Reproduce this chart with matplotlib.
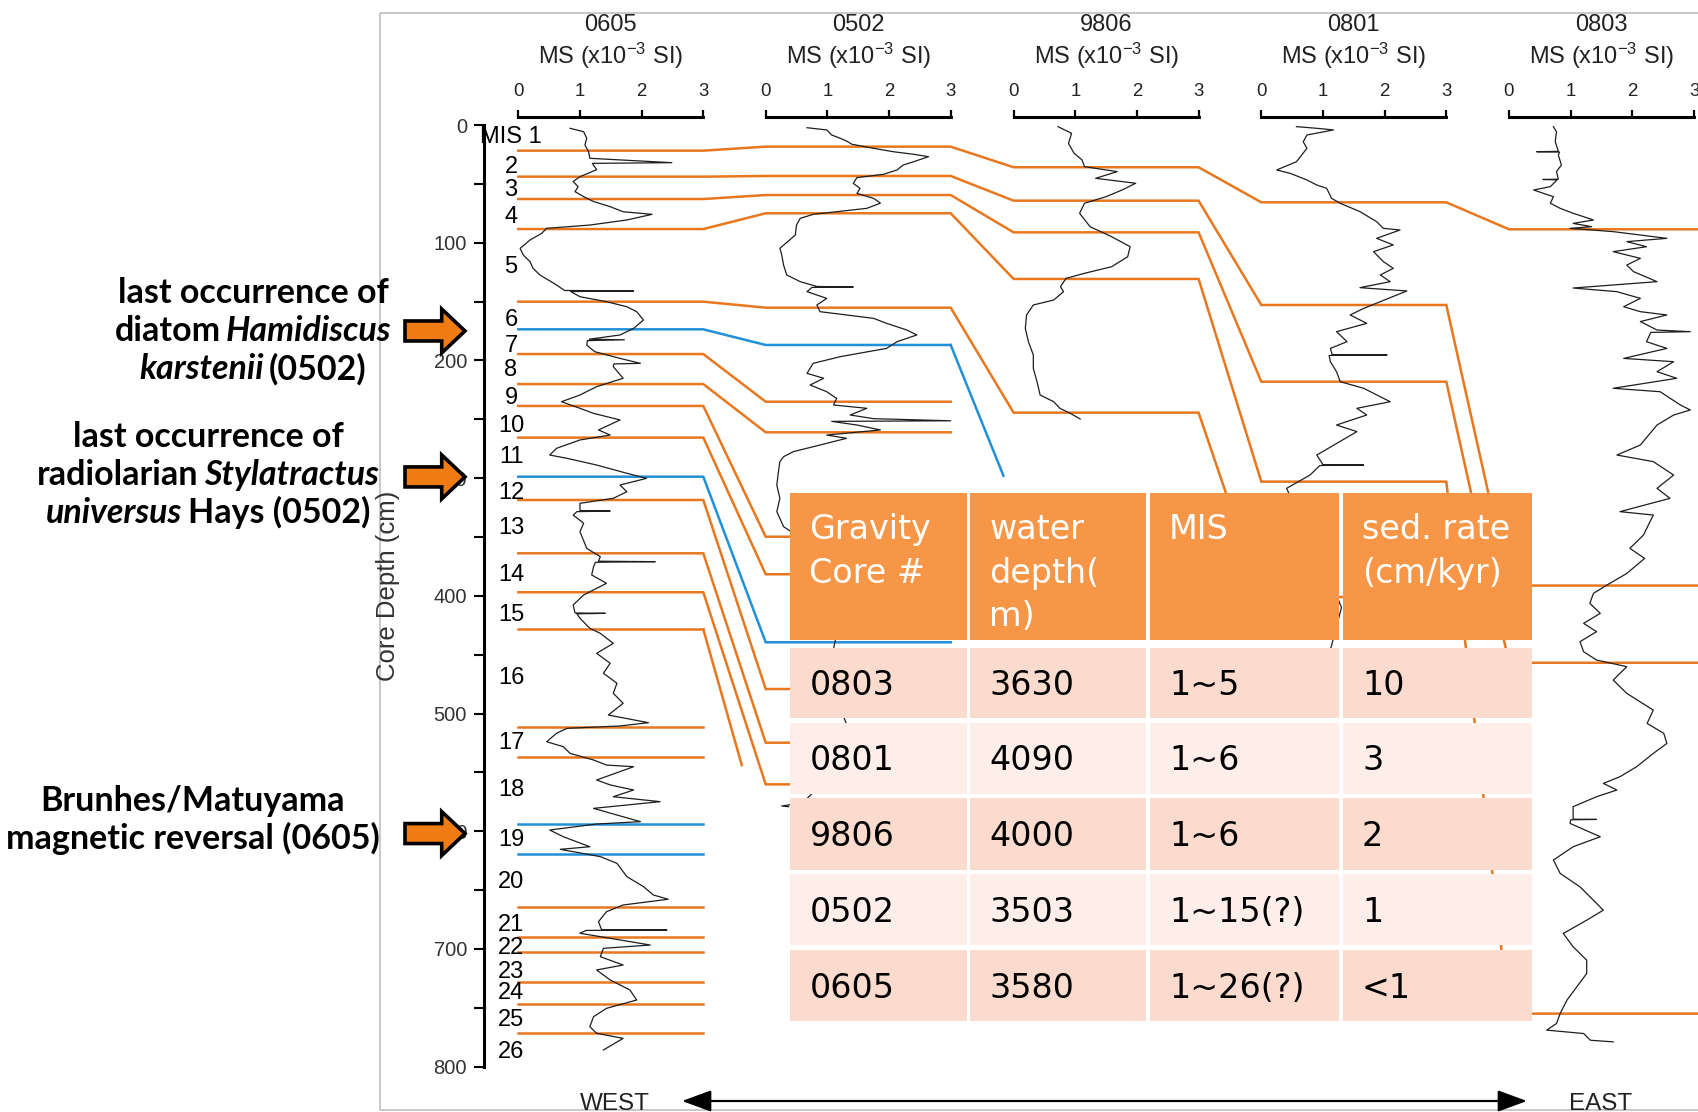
import numpy as np
import matplotlib
matplotlib.use("Agg")
import matplotlib.pyplot as plt
from matplotlib.transforms import Affine2D
from matplotlib.patches import Rectangle, Polygon, FancyArrowPatch
from matplotlib import font_manager as fm

plt.rcParams['font.family'] = ['Liberation Sans', 'DejaVu Sans']
plt.rcParams['mathtext.default'] = 'regular'

nan = np.nan
# ---------------------------------------------------------------- data
core_names = ['0605', '0502', '9806', '0801', '0803']
ms_ticks = [0, 1, 2, 3]
depth_major = list(range(0, 801, 100))
depth_minor = list(range(50, 800, 100))

# [depth (cm), MS (x10^-3 SI)]
ms_0605 = np.array([
    [2.8,0.84],[5.7,1.06],[11.3,1.11],[17.0,1.08],[22.7,1.14],[28.3,1.16],[32.0,2.49],[32.6,1.20],
    [38.0,1.27],[43.9,1.00],[48.0,0.89],[52.4,0.97],[56.6,0.92],[60.9,1.06],[65.0,1.22],[69.4,1.49],
    [73.7,1.70],[75.9,2.17],[80.7,1.76],[85.0,1.16],[87.8,0.46],[92.0,0.38],[97.7,0.19],[104.8,0.03],
    [110.4,0.08],[116.1,0.19],[121.8,0.24],[127.4,0.35],[135.9,0.62],[140.6,0.75],[141.0,1.87],[141.5,0.85],
    [145.9,1.00],[150.1,1.43],[154.4,1.76],[158.6,1.92],[165.7,2.03],[172.8,1.87],[178.4,1.65],[182.0,1.15],
    [182.5,1.72],[183.2,1.12],[187.0,1.11],[192.6,1.24],[198.3,1.65],[202.5,1.98],[203.0,1.55],[205.3,1.54],
    [215.2,1.70],[222.3,1.27],[229.4,1.00],[235.1,0.70],[240.7,1.00],[245.0,1.22],[250.6,1.65],[259.1,1.30],
    [263.4,1.49],[267.6,1.00],[274.7,0.62],[280.4,0.51],[283.2,0.79],[288.9,1.27],[295.9,1.76],[300.2,2.08],
    [305.9,1.65],[311.6,1.76],[317.2,1.54],[321.4,1.00],[327.6,1.00],[328.0,1.49],[328.5,0.95],[331.4,0.89],
    [338.4,1.06],[345.5,1.00],[359.7,1.11],[366.8,1.33],[370.6,1.30],[371.0,2.22],[371.5,1.25],[375.3,1.22],
    [382.3,1.19],[389.4,1.43],[399.3,1.06],[407.8,0.89],[414.6,0.92],[414.9,1.41],[415.3,0.95],[419.1,1.00],
    [427.6,1.16],[431.9,1.33],[440.4,1.54],[448.9,1.27],[457.3,1.49],[465.8,1.38],[474.3,1.60],[482.8,1.54],
    [491.3,1.70],[501.3,1.46],[507.8,2.11],[510.6,1.65],[512.6,0.79],[516.8,0.62],[524.0,0.46],[528.2,0.73],
    [533.9,0.84],[539.5,1.22],[543.8,1.43],[545.2,1.87],[556.5,1.27],[560.7,1.49],[565.0,1.87],[570.7,1.54],
    [574.9,2.30],[580.6,1.22],[591.9,1.98],[593.9,1.27],[599.0,0.51],[604.7,0.73],[613.2,1.16],[615.4,0.68],
    [621.6,1.33],[627.3,1.60],[638.6,1.76],[647.1,2.03],[654.2,2.19],[657.8,2.43],[662.7,1.70],[668.4,1.43],
    [676.9,1.30],[683.6,1.35],[683.9,2.41],[684.3,1.10],[686.7,1.00],[692.4,1.65],[696.7,2.14],[699.5,1.38],
    [706.6,1.33],[713.7,1.70],[717.9,1.27],[726.4,1.49],[734.9,1.81],[743.4,1.92],[750.5,1.43],[757.6,1.22],
    [766.1,1.16],[771.7,1.27],[776.0,1.70],[785.9,1.38]])

ms_0502 = np.array([
    [2.3,0.67],[4.2,0.99],[8.5,1.07],[11.3,1.21],[13.6,1.31],[16.4,1.40],[19.8,1.75],[22.7,2.07],
    [24.9,2.40],[26.9,2.64],[31.2,2.40],[34.0,2.23],[38.2,2.13],[41.9,1.91],[44.7,1.48],[49.6,1.42],
    [53.8,1.53],[58.1,1.48],[62.3,1.75],[66.4,1.86],[70.8,1.64],[75.9,0.77],[79.3,0.56],[84.9,0.50],
    [93.5,0.48],[104.8,0.23],[110.4,0.26],[119.0,0.29],[127.4,0.34],[133.1,0.56],[137.2,0.83],[137.6,1.42],
    [138.0,0.75],[141.6,0.67],[147.3,0.99],[152.9,0.83],[158.6,0.88],[161.4,1.31],[164.3,1.75],[168.5,1.96],
    [174.2,2.29],[178.4,2.45],[184.1,2.13],[189.8,1.96],[196.8,1.21],[202.5,0.77],[211.0,0.67],[215.2,0.94],
    [220.9,0.72],[226.6,0.99],[232.3,1.15],[237.9,1.10],[240.7,1.64],[246.4,1.37],[249.5,1.75],[251.3,3.00],
    [251.8,1.07],[254.9,1.48],[259.1,1.86],[263.4,0.99],[266.2,1.31],[271.9,0.88],[277.5,0.45],[281.8,0.29],
    [286.0,0.23],[293.2,0.21],[305.9,0.18],[317.2,0.23],[328.5,0.18],[341.3,0.29],[350.0,0.55],[380.0,0.90],
    [420.0,1.20],[470.0,1.00],[520.0,1.40],[560.0,0.90],[576.0,0.60],[578.6,0.26],[579.2,0.37]])

ms_9806 = np.array([
    [1.4,0.72],[7.1,0.94],[15.6,0.89],[24.0,0.98],[29.7,1.11],[35.4,1.15],[39.6,1.68],[45.3,1.33],
    [49.5,1.98],[55.2,1.76],[60.9,1.50],[66.5,1.15],[75.0,1.07],[86.4,1.24],[94.9,1.59],[103.4,1.89],
    [111.9,1.85],[120.4,1.59],[126.0,1.15],[130.3,0.85],[137.4,0.76],[141.6,0.81],[148.7,0.65],[152.9,0.32],
    [161.4,0.21],[172.8,0.19],[184.1,0.24],[195.4,0.32],[206.8,0.32],[218.1,0.38],[229.4,0.43],[235.1,0.65],
    [240.7,0.75],[245.0,0.92],[249.8,1.08]])

ms_0801 = np.array([
    [1.4,0.57],[2.8,0.90],[4.2,1.17],[8.5,0.74],[14.2,0.68],[19.8,0.74],[31.2,0.57],[38.2,0.25],
    [41.1,0.47],[46.7,0.74],[51.0,0.90],[53.8,1.06],[62.3,1.14],[66.5,1.28],[73.6,1.60],[82.1,1.87],
    [87.8,1.98],[89.2,2.25],[96.3,1.87],[101.9,2.14],[107.6,1.82],[116.1,1.98],[121.8,2.14],[127.4,1.93],
    [133.1,2.09],[138.2,1.60],[141.0,2.36],[150.1,1.93],[155.8,1.66],[161.4,1.44],[168.5,1.71],[175.6,1.22],
    [184.1,1.39],[189.8,1.12],[195.2,1.15],[195.4,2.04],[195.8,1.10],[201.1,1.12],[209.6,1.22],[218.1,1.28],
    [223.7,1.66],[235.1,2.09],[240.7,1.55],[246.4,1.71],[254.9,1.22],[260.5,1.55],[280.4,0.90],[288.6,1.00],
    [288.9,1.66],[289.3,0.95],[297.4,0.79],[308.7,0.41],[330.0,0.60],[370.0,1.00],[410.0,1.30],[450.0,1.10]])

ms_0803 = np.array([
    [1.4,0.72],[5.7,0.77],[14.2,0.75],[22.4,0.80],[22.7,0.45],[23.0,0.82],[25.5,0.80],[34.0,0.85],
    [39.6,0.77],[46.0,0.80],[46.3,0.55],[46.6,0.78],[52.4,0.67],[55.2,0.40],[58.1,0.56],[60.9,0.72],
    [66.5,0.67],[70.8,0.83],[75.0,1.04],[77.9,1.21],[80.7,1.37],[83.6,1.04],[86.4,1.34],[87.8,0.99],
    [90.6,1.69],[96.3,2.56],[99.1,1.91],[103.4,2.23],[107.6,1.69],[113.3,2.13],[119.0,1.91],[124.6,2.02],
    [133.1,2.40],[138.5,1.04],[141.6,1.75],[147.3,2.13],[154.4,1.86],[158.6,2.13],[161.4,2.56],[167.0,2.13],
    [174.2,2.40],[175.6,2.94],[176.2,2.30],[184.1,2.23],[189.8,2.56],[198.3,1.86],[201.1,2.67],[209.6,2.40],
    [215.2,2.72],[223.7,1.69],[226.6,2.45],[237.9,2.78],[242.1,2.94],[246.4,2.67],[254.9,2.40],[271.9,2.13],
    [280.4,1.75],[286.0,2.34],[297.4,2.67],[308.7,2.40],[317.2,2.61],[328.5,1.80],[331.4,2.34],[348.4,2.18],
    [359.7,1.96],[368.2,2.20],[381.0,1.91],[390.8,1.59],[397.9,1.37],[406.4,1.31],[414.9,1.48],[423.4,1.21],
    [430.5,1.42],[439.0,1.15],[447.5,1.21],[454.6,1.42],[460.2,1.91],[471.6,1.69],[482.9,1.91],[497.1,2.34],
    [508.4,2.24],[516.9,2.51],[525.4,2.56],[533.9,2.34],[545.2,2.07],[553.7,1.80],[559.4,1.53],[565.0,1.75],
    [570.7,1.42],[579.2,1.04],[589.8,1.04],[590.0,1.42],[590.3,1.00],[593.4,0.99],[604.7,1.48],[613.2,1.04],
    [624.5,0.72],[635.9,0.83],[647.2,1.15],[667.1,1.53],[675.6,1.26],[686.9,0.88],[698.2,1.04],[709.6,1.26],
    [720.9,1.26],[732.2,1.10],[743.5,0.94],[754.9,0.83],[763.4,0.77],[769.0,0.61],[771.9,1.21],[777.6,1.32],
    [779.0,1.69]])

mis_labels = ['MIS 1'] + [str(i) for i in range(2, 27)]
mis_label_depth = [9.9, 35.4, 55.2, 77.9, 120.4, 165.7, 187.5, 208.2, 231.9, 255.5, 281.8, 312.7, 342.4,
                   382.3, 416.3, 469.8, 524.8, 565.0, 607.5, 642.9, 679.7, 699.5, 719.4, 737.8, 760.4, 787.3]

# correlation horizons (depth in cm at each core, nan = absent)
N_HZ = 25
def _pad(v):
    return v + [nan] * (N_HZ - len(v))
hz_0605 = [21.8, 43.9, 62.9, 88.4, 150.1, 173.6, 194.6, 220.1, 238.7, 265.6, 298.8, 318.6, 363.9, 397.0,
           428.5, 511.2, 536.7, 594.1, 619.4, 664.1, 689.6, 702.4, 727.9, 746.8, 771.7]
hz_0502 = _pad([18.4, 43.3, 59.5, 75.0, 155.2, 186.9, 235.1, 261.1, 349.8, 381.7, 439.5, 479.2, 524.8, 560.2])
hz_9806 = _pad([35.9, 64.3, 91.2, 130.8, 244.4])
hz_0801 = _pad([65.7, 152.9, 218.1, 303.0, 401.0])
hz_0803 = _pad([88.6, 391.3, 456.9, 755.0])
hz_kind = ['o'] * 5 + ['b'] + ['o'] * 4 + ['b'] + ['o'] * 6 + ['b', 'b'] + ['o'] * 6
# truncated correlation lines
stub_horizon = [5, 14]
stub_from_core = [1, 0]
stub_target_depth = [319.4, 615.6]
stub_end_depth = [298.0, 543.8]

marker_depth = [175.0, 299.0, 602.0]
annotations = [
    [[('last occurrence of', False)], [('diatom', False), ('Hamidiscus', True)],
     [('karstenii', True), ('(0502)', False)]],
    [[('last occurrence of', False)], [('radiolarian', False), ('Stylatractus', True)],
     [('universus', True), ('Hays (0502)', False)]],
    [[('Brunhes/Matuyama', False)], [('magnetic reversal (0605)', False)]],
]

table_header = [['Gravity', 'Core #'], ['water', 'depth(', 'm)'], ['MIS'], ['sed. rate', '(cm/kyr)']]
table_rows = [['0803', '3630', '1~5', '10'],
              ['0801', '4090', '1~6', '3'],
              ['9806', '4000', '1~6', '2'],
              ['0502', '3503', '1~15(?)', '1'],
              ['0605', '3580', '1~26(?)', '<1']]

# ---------------------------------------------------------------- layout
W, H = 1698, 1112
fig = plt.figure(figsize=(W / 100, H / 100), dpi=100)
T = Affine2D().scale(1.0 / W, -1.0 / H).translate(0, 1) + fig.transFigure  # image pixels

TOP_PX, BOT_PX = 125.0, 1066.6
AX_LEFT = 484.0
CORE_X0 = [518.3, 765.7, 1013.6, 1261.3, 1509.0]
CORE_W = 185.0
ORANGE = '#e8771e'
BLUE = '#2090d8'
TRACE = '#1e1e1e'
TXT = '#222222'

def d2px(d):
    return TOP_PX + (BOT_PX - TOP_PX) * d / 800.0

ax_b = 1 - BOT_PX / H
ax_h = (BOT_PX - TOP_PX) / H

# frame
fig.add_artist(Rectangle((380, 13), 1330, 1097, transform=T, fill=False,
                         edgecolor='#c4c4c4', lw=1.3, zorder=0.5))

# main axes (depth axis + correlation lines)
ax = fig.add_axes([AX_LEFT / W, ax_b, (W - AX_LEFT) / W, ax_h])
ax.set_xlim(AX_LEFT, W)
ax.set_ylim(800, 0)
ax.patch.set_alpha(0)
for s in ['top', 'right', 'bottom']:
    ax.spines[s].set_visible(False)
ax.spines['left'].set_linewidth(2.2)
ax.set_xticks([])
ax.set_yticks(depth_major)
ax.set_yticks(depth_minor, minor=True)
ax.tick_params(axis='y', which='both', direction='out', length=7.2, width=1.5, color='black')
ax.tick_params(axis='y', which='major', labelsize=14.5, labelcolor='#333333', pad=5)

hz_all = [hz_0605, hz_0502, hz_9806, hz_0801, hz_0803]
for i in range(N_HZ):
    col = ORANGE if hz_kind[i] == 'o' else BLUE
    xs, ys = [], []
    for c in range(len(core_names)):
        d = hz_all[c][i]
        if np.isnan(d):
            if xs:
                ax.plot(xs, ys, color=col, lw=1.8, solid_joinstyle='miter', zorder=2)
            xs, ys = [], []
            continue
        xr = CORE_X0[c] + CORE_W if c < len(core_names) - 1 else W
        xs += [CORE_X0[c], xr]
        ys += [d, d]
    if xs:
        ax.plot(xs, ys, color=col, lw=1.8, solid_joinstyle='miter', zorder=2)

for h, c, dt, de in zip(stub_horizon, stub_from_core, stub_target_depth, stub_end_depth):
    col = ORANGE if hz_kind[h] == 'o' else BLUE
    d0 = hz_all[c][h]
    xa = CORE_X0[c] + CORE_W
    xb = CORE_X0[c + 1]
    f = (de - d0) / (dt - d0)
    ax.plot([xa, xa + f * (xb - xa)], [d0, de], color=col, lw=1.8, zorder=2)

for lab, d in zip(mis_labels, mis_label_depth):
    ax.text(511, d, lab, ha='center', va='center', fontsize=17, color='black', zorder=3)

fig.text(388, 586, 'Core Depth (cm)', transform=T, rotation=90, ha='center', va='center',
         fontsize=18.5, color='#333333')

# core axes with MS traces
traces = [ms_0605, ms_0502, ms_9806, ms_0801, ms_0803]
for name, x0, tr in zip(core_names, CORE_X0, traces):
    axc = fig.add_axes([x0 / W, ax_b, CORE_W / W, ax_h])
    axc.set_xlim(0, 3)
    axc.set_ylim(800, 0)
    axc.patch.set_alpha(0)
    for s in ['left', 'right', 'bottom']:
        axc.spines[s].set_visible(False)
    axc.spines['top'].set_position(('outward', 6))
    axc.spines['top'].set_linewidth(2.2)
    axc.xaxis.set_ticks_position('top')
    axc.set_xticks(ms_ticks)
    axc.set_xticklabels([str(t) for t in ms_ticks])
    axc.set_yticks([])
    axc.tick_params(axis='x', direction='out', length=5, width=1.6, labelsize=13.4,
                    labelcolor=TXT, pad=7)
    axc.plot(tr[:, 1], tr[:, 0], color=TRACE, lw=0.9, clip_on=False, zorder=3)
    xc = x0 + CORE_W / 2
    fig.text(xc, 25, name, transform=T, ha='center', va='center', fontsize=17, color=TXT)
    fig.text(xc, 56, r'MS (x10$^{-3}$ SI)', transform=T, ha='center', va='center',
             fontsize=17, color=TXT)

# ---------------------------------------------------------------- table
tbl_cols = [(790.5, 967.0), (970.5, 1146.0), (1150.0, 1339.5), (1343.0, 1532.3)]
tbl_hdr = (492.7, 640.0)
tbl_rows_y = [(647.6, 718.2), (722.6, 793.8), (798.2, 869.6), (874.0, 945.4), (949.8, 1021.2)]
HDR_C = '#f79646'
ROW_C = ['#fbdbcd', '#fdeee9']
TFS = 24
em = TFS * 100 / 72.0
tfam = ['DejaVu Sans']
for (xl, xr), lines in zip(tbl_cols, table_header):
    fig.add_artist(Rectangle((xl, tbl_hdr[0]), xr - xl, tbl_hdr[1] - tbl_hdr[0], transform=T,
                             facecolor=HDR_C, edgecolor='none', zorder=5))
    for k, ln in enumerate(lines):
        fig.text(xl + 19, 527 + 43.7 * k + 0.36 * em, ln, transform=T, ha='left', va='baseline',
                 fontsize=TFS, color='white', family=tfam, zorder=6)
for r, ((yt, yb), row) in enumerate(zip(tbl_rows_y, table_rows)):
    for (xl, xr), val in zip(tbl_cols, row):
        fig.add_artist(Rectangle((xl, yt), xr - xl, yb - yt, transform=T,
                                 facecolor=ROW_C[r % 2], edgecolor='none', zorder=5))
        fig.text(xl + 19, (yt + yb) / 2 + 0.36 * em, val, transform=T, ha='left', va='baseline',
                 fontsize=TFS, color='black', family=tfam, zorder=6)

# ---------------------------------------------------------------- left annotations
def pick_family(cands):
    for fam in cands:
        ok = [f for f in fm.fontManager.ttflist if f.name == fam]
        has_bi = any(f.style in ('italic', 'oblique') and (f.weight in ('bold', 700) or
                     (isinstance(f.weight, int) and f.weight >= 600)) for f in ok)
        if ok and has_bi:
            return fam
    return 'DejaVu Sans'

AFAM = pick_family(['Lato', 'Open Sans', 'Noto Sans', 'Liberation Sans'])
AFS = 24.5
aem = AFS * 100 / 72.0
renderer = fig.canvas.get_renderer()

def rich_line(xc, yc, segs):
    arts, widths = [], []
    for txt, it in segs:
        t = fig.text(0, 0, txt, transform=T, fontsize=AFS, family=[AFAM, 'DejaVu Sans'],
                     fontweight='bold', fontstyle='italic' if it else 'normal',
                     ha='left', va='baseline', color='black', zorder=6)
        arts.append(t)
        widths.append(t.get_window_extent(renderer).width)
    gap = 0.16 * aem
    total = sum(widths) + gap * (len(segs) - 1)
    x = xc - total / 2
    for t, w in zip(arts, widths):
        t.set_position((x, yc + 0.36 * aem))
        x += w + gap

ann_center_x = [253, 208, 193]
ann_center_y = [329, 473, 818]
LINE_H = 38
for block, xc, yc in zip(annotations, ann_center_x, ann_center_y):
    n = len(block)
    for k, segs in enumerate(block):
        rich_line(xc, yc + (k - (n - 1) / 2) * LINE_H, segs)

# block arrows pointing at the depth axis
for d in marker_depth:
    yc = d2px(d)
    verts = [(405, yc - 10), (441.7, yc - 10), (441.7, yc - 22), (465, yc),
             (441.7, yc + 22), (441.7, yc + 10), (405, yc + 10)]
    fig.add_artist(Polygon(verts, closed=True, transform=T, facecolor='#ee7c12',
                           edgecolor='black', lw=2.6, joinstyle='miter', zorder=7))

# WEST <-> EAST
fig.add_artist(FancyArrowPatch((682, 1101), (1527, 1101), transform=T,
                               arrowstyle='<|-|>,head_length=0.9,head_width=0.33',
                               mutation_scale=20, lw=1.6, color='black',
                               shrinkA=0, shrinkB=0, zorder=4))
fig.text(615, 1110, 'WEST', transform=T, ha='center', va='baseline', fontsize=17.5, color=TXT)
fig.text(1601, 1110, 'EAST', transform=T, ha='center', va='baseline', fontsize=17.5, color=TXT)

fig.savefig('out.png', dpi=100)
